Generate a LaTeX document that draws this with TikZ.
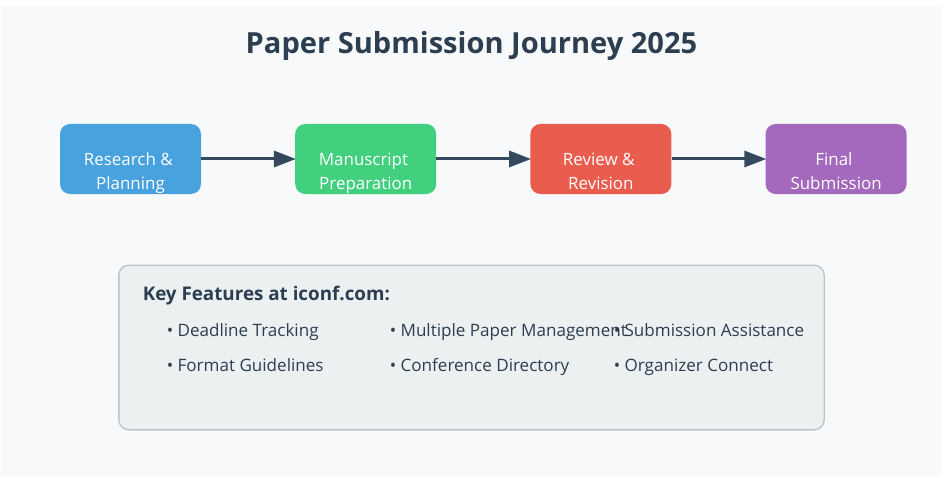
\documentclass[tikz,border=0pt]{standalone}
\usepackage{fontspec}
\setmainfont{Open Sans}
\usetikzlibrary{arrows.meta}
\definecolor{pagebg}{HTML}{F8F9FA}
\definecolor{inkdark}{HTML}{2C3E50}
\definecolor{arrowink}{HTML}{34495E}
\definecolor{panelbg}{HTML}{ECF0F1}
\definecolor{panelline}{HTML}{BDC3C7}
\definecolor{stepblue}{HTML}{48A2DE}
\definecolor{stepgreen}{HTML}{42D07F}
\definecolor{stepred}{HTML}{E95D4F}
\definecolor{steppurple}{HTML}{A469BD}
\newcommand{\trail}{\kern3.3pt}
\tikzset{
  stepbox/.style={rounded corners=7.5pt,minimum width=105.75pt,minimum height=52.5pt,inner sep=0pt},
  steptext/.style={anchor=base,text=white,align=center,font=\fontsize{12.7pt}{18pt}\selectfont,inner sep=0pt},
  feature/.style={anchor=base west,text=inkdark,inner sep=0pt,font=\fontsize{12.8pt}{14pt}\selectfont},
  flow/.style={draw=arrowink,line width=2.25pt,shorten >=-.75pt,-{Triangle[length=16.5pt,width=12pt]}}
}
\begin{document}
\begin{tikzpicture}[x=.75pt,y=-.75pt,node distance=176.4pt]
\useasboundingbox (0,0) rectangle (947,478);
\fill[pagebg] (1,6) rectangle (942,476);
\node [anchor=base,text=inkdark,font=\fontsize{21.8pt}{28pt}\selectfont\bfseries,inner sep=0pt] (title) at (471.5,54) {Paper Submission Journey 2025};
% steps
\node [stepbox,fill=stepblue] (research) at (130.5,159) {};
\node [stepbox,fill=stepgreen,right of=research] (manuscript) {};
\node [stepbox,fill=stepred,right of=manuscript] (review) {};
\node [stepbox,fill=steppurple,right of=review] (final) {};
\node [steptext] (researchtext) at (130.5,190) {Research \&\trail\\Planning};
\node [steptext] (manuscripttext) at (365.7,190) {Manuscript\trail\\Preparation};
\node [steptext] (reviewtext) at (600.9,190) {Review \&\trail\\Revision};
\node [steptext] (finaltext) at (836.1,190) {Final\trail\\Submission};
\draw [flow] (research) -- (manuscript);
\draw [flow] (manuscript) -- (review);
\draw [flow] (review) -- (final);
% features
\node [draw=panelline,fill=panelbg,line width=1pt,rounded corners=7.5pt,minimum width=529pt,minimum height=123.5pt,inner sep=0pt] (panel) at (471.5,347.5) {};
\node [anchor=base west,text=inkdark,inner sep=0pt,font=\fontsize{14.1pt}{16pt}\selectfont\bfseries] (heading) at (142.5,300) {Key Features at iconf.com:};
\node [feature] (deadline) at (166.5,336) {• Deadline Tracking};
\node [feature] (format) at (166.5,371) {• Format Guidelines};
\node [feature] (multiple) at (389.5,336) {• Multiple Paper Management};
\node [feature] (directory) at (389.5,371) {• Conference Directory};
\node [feature] (assistance) at (613.5,336) {• Submission Assistance};
\node [feature] (organizer) at (613.5,371) {• Organizer Connect};
\end{tikzpicture}
\end{document}
